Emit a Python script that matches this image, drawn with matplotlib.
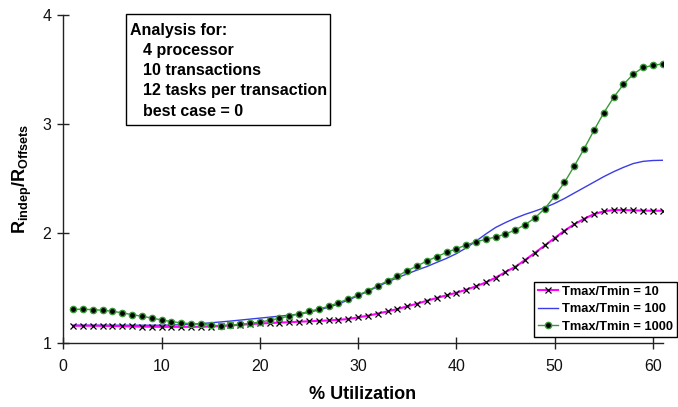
import matplotlib
matplotlib.use("Agg")
import matplotlib.pyplot as plt
from matplotlib.patches import Rectangle

plt.rcParams['font.family'] = ['Liberation Sans', 'DejaVu Sans']
plt.rcParams['mathtext.fontset'] = 'custom'
plt.rcParams['mathtext.rm'] = 'Liberation Sans'
plt.rcParams['mathtext.bf'] = 'Liberation Sans:bold'
plt.rcParams['mathtext.it'] = 'Liberation Sans:italic'

utilization = list(range(1, 62))

ratio_10 = [1.155, 1.155, 1.155, 1.154, 1.153, 1.151, 1.149, 1.147, 1.146, 1.145,
            1.145, 1.145, 1.145, 1.146, 1.148, 1.152, 1.158, 1.164, 1.170, 1.176,
            1.180, 1.184, 1.188, 1.192, 1.196, 1.200, 1.204, 1.209, 1.217, 1.232,
            1.247, 1.266, 1.287, 1.308, 1.333, 1.357, 1.384, 1.409, 1.434, 1.457,
            1.485, 1.516, 1.552, 1.595, 1.647, 1.695, 1.757, 1.823, 1.890, 1.958,
            2.025, 2.084, 2.134, 2.177, 2.202, 2.215, 2.215, 2.212, 2.209, 2.208,
            2.208]

ratio_100 = [1.160, 1.160, 1.160, 1.160, 1.160, 1.160, 1.160, 1.160, 1.160, 1.160,
             1.162, 1.165, 1.170, 1.175, 1.182, 1.190, 1.198, 1.207, 1.216, 1.225,
             1.234, 1.243, 1.252, 1.262, 1.278, 1.300, 1.325, 1.355, 1.390, 1.430,
             1.470, 1.515, 1.555, 1.595, 1.630, 1.665, 1.697, 1.735, 1.772, 1.815,
             1.868, 1.930, 1.995, 2.055, 2.100, 2.140, 2.175, 2.205, 2.237, 2.275,
             2.320, 2.370, 2.420, 2.470, 2.520, 2.565, 2.605, 2.640, 2.660, 2.668,
             2.670]

ratio_1000 = [1.306, 1.306, 1.303, 1.297, 1.288, 1.273, 1.257, 1.242, 1.226, 1.208,
              1.193, 1.181, 1.174, 1.169, 1.160, 1.156, 1.162, 1.168, 1.177, 1.189,
              1.205, 1.223, 1.244, 1.263, 1.287, 1.308, 1.333, 1.366, 1.400, 1.436,
              1.476, 1.522, 1.565, 1.610, 1.659, 1.702, 1.748, 1.787, 1.827, 1.860,
              1.894, 1.924, 1.946, 1.968, 1.995, 2.032, 2.081, 2.143, 2.228, 2.340,
              2.467, 2.617, 2.775, 2.943, 3.104, 3.245, 3.364, 3.458, 3.520, 3.538,
              3.553]

labels = ['Tmax/Tmin = 10', 'Tmax/Tmin = 100', 'Tmax/Tmin = 1000']
info_lines = ['Analysis for:', '4 processor', '10 transactions',
              '12 tasks per transaction', 'best case = 0']

W, H = 678, 407
fig = plt.figure(figsize=(W / 100, H / 100), dpi=100)
ax = fig.add_axes([63.3 / W, 1 - 342.7 / H, (662.7 - 63.3) / W, (342.7 - 15) / H])

ax.plot(utilization, ratio_10, color='#ff00ff', lw=1.5, marker='x', ms=4.5,
        mec='black', mew=0.9, label=labels[0], zorder=3)
ax.plot(utilization, ratio_100, color='#3c3ce6', lw=1.0, label=labels[1], zorder=2)
ax.plot(utilization, ratio_1000, color='#3a9a3a', lw=1.0, marker='o', ms=4.5,
        mfc='black', mec='#3a9a3a', mew=1.0, label=labels[2], zorder=4)

ax.set_xlim(0, 61)
ax.set_ylim(1, 4)
ax.set_xticks([0, 10, 20, 30, 40, 50, 60])
ax.set_yticks([1, 2, 3, 4])
for s in ['top', 'right']:
    ax.spines[s].set_visible(False)
for s in ['left', 'bottom']:
    ax.spines[s].set_color('#222222')
    ax.spines[s].set_linewidth(1.0)
ax.tick_params(direction='inout', length=9, width=1.0, color='#222222',
               labelsize=11.5, labelcolor='#111111')
ax.tick_params(axis='x', pad=7)
ax.tick_params(axis='y', pad=4)

ax.set_xlabel('% Utilization', fontsize=13, fontweight='bold', labelpad=9)
ax.set_ylabel(r'$\mathbf{R_{indep}/R_{Offsets}}$', fontsize=13, labelpad=6)

leg = ax.legend(loc='upper right', bbox_to_anchor=(677 / W, 1 - 282 / H),
                bbox_transform=fig.transFigure, frameon=True, fancybox=False,
                edgecolor='black', framealpha=1, borderaxespad=0,
                prop={'weight': 'bold', 'size': 9.3}, handlelength=1.6,
                handletextpad=0.3, labelspacing=0.42, borderpad=0.3)
leg.get_frame().set_linewidth(1.0)

fig.patches.append(Rectangle((126 / W, 1 - 125 / H), (330 - 126) / W, (125 - 14) / H,
                             transform=fig.transFigure, fill=False,
                             edgecolor='black', lw=1.0))
ys = [30, 50, 70.5, 90.7, 111]
for i, (t, y) in enumerate(zip(info_lines, ys)):
    x = 129.5 if i == 0 else 143
    fig.text(x / W, 1 - y / H, t, fontsize=11.5, fontweight='bold', va='center', ha='left')

fig.savefig('out.png', dpi=100)
